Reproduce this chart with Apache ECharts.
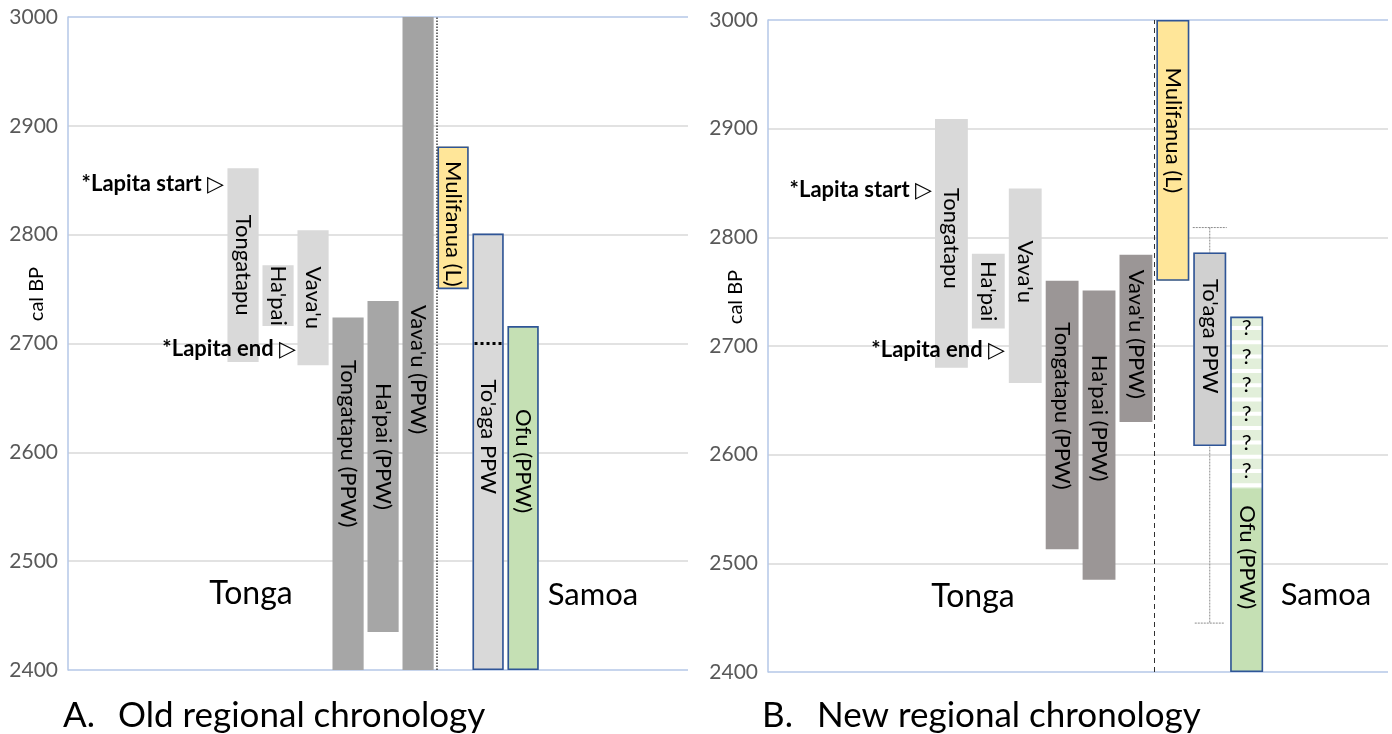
<!DOCTYPE html>
<html>
<head>
<meta charset="utf-8">
<script src="https://cdn.jsdelivr.net/npm/echarts@6/dist/echarts.min.js"></script>
<style>
  html, body { margin: 0; padding: 0; background: #ffffff; }
  #chart { width: 1392px; height: 734px; }
</style>
</head>
<body>
<div id="chart"></div>
<script>
// Regional ceramic phases, Tonga and Samoa (cal BP, older bound -> younger bound)
const sites = ["Tongatapu", "Ha'pai", "Vava'u", "Tongatapu (PPW)", "Ha'pai (PPW)",
               "Vava'u (PPW)", "Mulifanua (L)", "To'aga PPW", "Ofu (PPW)"];

// A. Old regional chronology
const oldFrom = [2861, 2772, 2804, 2724, 2739, 3000, 2881, 2801, 2716];
const oldTo   = [2683, 2716, 2680, 2400, 2435, 2400, 2750, 2400, 2400];
const oldToagaSplit = 2700;          // dotted boundary inside To'aga

// B. New regional chronology
const newFrom = [2909, 2785, 2845, 2760, 2751, 2784, 3000, 2786, 2727];
const newTo   = [2680, 2716, 2666, 2513, 2485, 2630, 2760, 2608, 2400];
const newOfuFirm = 2569;             // Ofu: uncertain above, firm below
const newToagaRange = [2809, 2445];  // To'aga whisker
const ofuQuestionMarks = 6;

const yTicks = [2400, 2500, 2600, 2700, 2800, 2900, 3000];

const FONT = 'Lato, "DejaVu Sans", sans-serif';
const BLUE = '#2f5597';

const styleA = {
  "Tongatapu": { fill: '#d9d9d9' },
  "Ha'pai": { fill: '#d9d9d9' },
  "Vava'u": { fill: '#d9d9d9' },
  "Tongatapu (PPW)": { fill: '#a6a6a6', dy: -50 },
  "Ha'pai (PPW)": { fill: '#a6a6a6', dy: -20 },
  "Vava'u (PPW)": { fill: '#a3a3a3', dy: 26 },
  "Mulifanua (L)": { fill: '#ffe699', stroke: BLUE, dy: 6 },
  "To'aga PPW": { fill: '#d9d9d9', stroke: BLUE, dy: -15, split: oldToagaSplit },
  "Ofu (PPW)": { fill: '#c5e0b4', stroke: BLUE, dy: -37 }
};
const styleB = {
  "Tongatapu": { fill: '#d9d9d9', dy: -5 },
  "Ha'pai": { fill: '#d9d9d9' },
  "Vava'u": { fill: '#d9d9d9', dy: -14 },
  "Tongatapu (PPW)": { fill: '#9b9696', dy: -9 },
  "Ha'pai (PPW)": { fill: '#9b9696', dy: -17 },
  "Vava'u (PPW)": { fill: '#9b9696', dy: -4 },
  "Mulifanua (L)": { fill: '#ffe699', stroke: BLUE, dy: -20 },
  "To'aga PPW": { fill: '#d0d0d0', stroke: BLUE, dy: -13, whisker: newToagaRange },
  "Ofu (PPW)": { fill: '#c5e0b4', stroke: BLUE, dy: -23, firm: newOfuFirm }
};

function vText(x, y, text) {
  return {
    type: 'text', x: x, y: y, rotation: -Math.PI / 2,
    style: {
      text: text, fill: '#000000', fontSize: 22, fontFamily: FONT,
      align: 'center', verticalAlign: 'middle',
      textAlign: 'center', textVerticalAlign: 'middle'
    }
  };
}

function makeRender(styles) {
  return function (params, api) {
    const i = api.value(0);
    const from = api.value(1), to = api.value(2);
    const name = sites[i];
    const st = styles[name];
    const pTop = api.coord([i, from]);
    const pBot = api.coord([i, to]);
    const w = api.size([1, 0])[0] * 0.89;
    const cx = pTop[0];
    const x = cx - w / 2, y = pTop[1], h = pBot[1] - pTop[1];
    const children = [];

    if (st.whisker) {
      const a = api.coord([i, st.whisker[0]]), b = api.coord([i, st.whisker[1]]);
      const ws = { stroke: '#8c8c8c', lineWidth: 1, lineDash: [2, 1] };
      children.push({ type: 'line', shape: { x1: cx, y1: a[1], x2: cx, y2: b[1] }, style: ws });
      children.push({ type: 'line', shape: { x1: cx - 17, y1: a[1], x2: cx + 17, y2: a[1] }, style: ws });
      children.push({ type: 'line', shape: { x1: cx - 15, y1: b[1], x2: cx + 15, y2: b[1] }, style: ws });
    }

    if (st.firm) {
      // uncertain upper part: pale stripes with question marks
      const pf = api.coord([i, st.firm]);
      const uh = pf[1] - y;
      children.push({ type: 'rect', shape: { x: x, y: y, width: w, height: uh }, style: { fill: '#e2efda' } });
      const stripes = 12;
      for (let k = 1; k <= stripes; k++) {
        const sy = y + uh * k / stripes - 5;
        children.push({ type: 'rect', shape: { x: x, y: sy, width: w, height: 4 }, style: { fill: '#ffffff' } });
      }
      for (let k = 0; k < ofuQuestionMarks; k++) {
        children.push({
          type: 'text', x: cx, y: y + uh * (k + 0.4) / ofuQuestionMarks,
          style: { text: '?', fill: '#000000', fontSize: 22, fontFamily: FONT,
                   align: 'center', verticalAlign: 'middle', textAlign: 'center', textVerticalAlign: 'middle' }
        });
      }
      children.push({ type: 'rect', shape: { x: x, y: pf[1], width: w, height: pBot[1] - pf[1] }, style: { fill: st.fill } });
      children.push(vText(cx, (pf[1] + pBot[1]) / 2 + (st.dy || 0), name));
    } else {
      children.push({ type: 'rect', shape: { x: x, y: y, width: w, height: h }, style: { fill: st.fill } });
      if (st.split) {
        const ps = api.coord([i, st.split]);
        children.push({ type: 'line', shape: { x1: x + 2, y1: ps[1], x2: x + w - 2, y2: ps[1] },
                        style: { stroke: '#000000', lineWidth: 3, lineDash: [3, 3] } });
      }
      children.push(vText(cx, y + h / 2 + (st.dy || 0), name));
    }
    if (st.stroke) {
      children.push({ type: 'rect', shape: { x: x + 0.75, y: y + 0.75, width: w - 1.5, height: h - 1.5 },
                      style: { fill: 'none', stroke: st.stroke, lineWidth: 1.6 } });
    }
    return { type: 'group', children: children };
  };
}

const gridLineColors = yTicks.map(function (v, k) {
  return (k === 0 || k === yTicks.length - 1) ? '#b4c7e7' : '#d9d9d9';
});

function yAxisFor(gridIndex) {
  return {
    type: 'value', gridIndex: gridIndex, min: yTicks[0], max: yTicks[yTicks.length - 1], interval: 100,
    axisLine: { show: true, onZero: false, lineStyle: { color: '#b4c7e7', width: 1.5 } },
    axisTick: { show: false },
    axisLabel: { color: '#595959', fontSize: 21, fontFamily: FONT, margin: 10,
                 formatter: function (v) { return String(v); } },
    splitLine: { show: true, lineStyle: { color: gridLineColors, width: 1.5 } }
  };
}
function xAxisFor(gridIndex, min, max) {
  return {
    type: 'value', gridIndex: gridIndex, min: min, max: max,
    axisLine: { show: false }, axisTick: { show: false },
    axisLabel: { show: false }, splitLine: { show: false }
  };
}

const dataA = sites.map(function (s, i) { return [i, oldFrom[i], oldTo[i]]; });
const dataB = sites.map(function (s, i) { return [i, newFrom[i], newTo[i]]; });

function txt(x, y, text, size, opts) {
  opts = opts || {};
  return {
    type: 'text', x: x, y: y, rotation: opts.rotation || 0, z: 100,
    style: {
      text: text, fill: opts.fill || '#000000', fontSize: size, fontFamily: FONT,
      fontWeight: opts.weight || 'normal',
      align: opts.align || 'left', verticalAlign: 'middle',
      textAlign: opts.align || 'left', textVerticalAlign: 'middle'
    }
  };
}

const option = {
  backgroundColor: '#ffffff',
  animation: false,
  grid: [
    { left: 68, top: 17, width: 620, height: 653 },
    { left: 768, top: 20, width: 620, height: 652 }
  ],
  xAxis: [xAxisFor(0, -5, 12.71), xAxisFor(1, -4.97, 11.83)],
  yAxis: [yAxisFor(0), yAxisFor(1)],
  series: [
    {
      type: 'custom', xAxisIndex: 0, yAxisIndex: 0, data: dataA,
      renderItem: makeRender(styleA),
      markLine: {
        silent: true, symbol: 'none', label: { show: false },
        lineStyle: { color: '#404040', width: 1.5, type: 'dotted' },
        data: [{ xAxis: 5.54 }]
      }
    },
    {
      type: 'custom', xAxisIndex: 1, yAxisIndex: 1, data: dataB,
      renderItem: makeRender(styleB),
      markLine: {
        silent: true, symbol: 'none', label: { show: false },
        lineStyle: { color: '#303030', width: 1, type: [5, 4] },
        data: [{ xAxis: 5.49 }]
      }
    }
  ],
  graphic: [
    txt(37, 294, 'cal BP', 20, { rotation: Math.PI / 2, align: 'center' }),
    txt(736, 297, 'cal BP', 20, { rotation: Math.PI / 2, align: 'center' }),
    txt(224, 184, '*Lapita start \u25B7', 22, { weight: 'bold', align: 'right' }),
    txt(296, 349, '*Lapita end \u25B7', 22, { weight: 'bold', align: 'right' }),
    txt(932, 190, '*Lapita start \u25B7', 22, { weight: 'bold', align: 'right' }),
    txt(1005, 350, '*Lapita end \u25B7', 22, { weight: 'bold', align: 'right' }),
    txt(251, 594, 'Tonga', 32, { align: 'center' }),
    txt(593, 595, 'Samoa', 31, { align: 'center' }),
    txt(973, 597, 'Tonga', 32, { align: 'center' }),
    txt(1326, 595, 'Samoa', 31, { align: 'center' }),
    txt(63, 716, 'A.', 35),
    txt(118, 716, 'Old regional chronology', 35),
    txt(762, 716, 'B.', 35),
    txt(817, 716, 'New regional chronology', 35)
  ]
};

const chart = echarts.init(document.getElementById('chart'), null, { renderer: 'canvas' });
chart.setOption(option);
</script>
</body>
</html>
